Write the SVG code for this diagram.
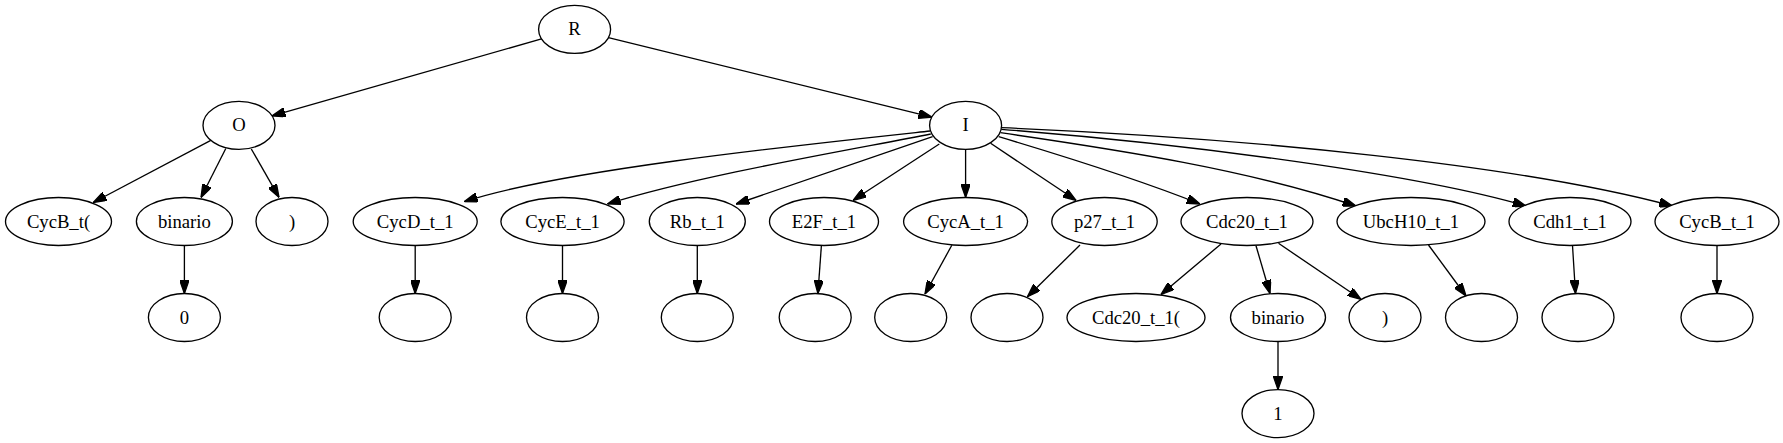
<svg xmlns="http://www.w3.org/2000/svg" width="1783" height="443" viewBox="0 0 1783 443">
<defs>
<style>
.n ellipse{fill:#fff;stroke:#000;stroke-width:1.33}
.n text{font-family:"Liberation Serif","Times New Roman",serif;font-size:18.67px;text-anchor:middle;fill:#000}
.e path{fill:none;stroke:#000;stroke-width:1.33;marker-end:url(#arr)}
</style>
<marker id="arr" viewBox="0 0 10 7" refX="10" refY="3.5" markerWidth="13.3" markerHeight="9.3" markerUnits="userSpaceOnUse" orient="auto">
<path d="M0,0 L10,3.5 L0,7 z" fill="#000" stroke="#000" stroke-width="1"/>
</marker>
</defs>
<rect width="1783" height="443" fill="#fff"/>
<g id="edges" class="e">
<path d="M541.5,38.9 L272.1,115.9"/>
<path d="M608.4,37.7 L931.8,117.1"/>
<path d="M210.8,140.4 L93.2,202.5"/>
<path d="M225.8,148.5 L201,197.5"/>
<path d="M251.3,149 L279,197.3"/>
<path d="M930,131 C800,145 560,170 464.3,201.7"/>
<path d="M930.8,134 C850,150 700,175 607.5,204"/>
<path d="M932.6,136.7 L736.2,204"/>
<path d="M939.3,144 L853.1,200.3"/>
<path d="M965.6,149.3 L965.6,197.3"/>
<path d="M990.6,143.3 L1076,200.3"/>
<path d="M998.7,136.7 C1060,155 1140,180 1200,204"/>
<path d="M1000.4,132.7 C1120,150 1250,170 1356,206"/>
<path d="M1001.3,129.3 C1200,145 1420,175 1526,206"/>
<path d="M1001.3,127.7 C1250,138 1520,165 1672.5,206"/>
<path d="M184.4,245.5 L184.4,293.5"/>
<path d="M415.2,245.5 L415.2,293.5"/>
<path d="M562.5,245.5 L562.5,293.5"/>
<path d="M697.3,245.5 L697.3,293.5"/>
<path d="M821.4,245.5 L817.9,293.5"/>
<path d="M951.8,245.3 L925,294"/>
<path d="M1080,245 L1027.5,296.7"/>
<path d="M1221,244 L1161,294.5"/>
<path d="M1256,245.7 L1270,293.5"/>
<path d="M1278.5,243.3 L1361,299.3"/>
<path d="M1428.5,245 L1466,296"/>
<path d="M1572.5,245.7 L1575.5,293.5"/>
<path d="M1717,245.5 L1717,293.5"/>
<path d="M1278,341.5 L1278,389.6"/>
</g>
<g id="n_R" class="n"><ellipse cx="574.6" cy="29.4" rx="36" ry="24"/><text x="574.6" y="35.4">R</text></g>
<g id="n_O" class="n"><ellipse cx="239" cy="125.4" rx="36" ry="24"/><text x="239" y="131.4">O</text></g>
<g id="n_I" class="n"><ellipse cx="965.6" cy="125.4" rx="36" ry="24"/><text x="965.6" y="131.4">I</text></g>
<g id="n_CycBt" class="n"><ellipse cx="58.5" cy="221.5" rx="53" ry="24"/><text x="58.5" y="227.5">CycB_t(</text></g>
<g id="n_bin0" class="n"><ellipse cx="184.4" cy="221.5" rx="48" ry="24"/><text x="184.4" y="227.5">binario</text></g>
<g id="n_par0" class="n"><ellipse cx="292" cy="221.5" rx="36" ry="24"/><text x="292" y="227.5">)</text></g>
<g id="n_CycD" class="n"><ellipse cx="415.2" cy="221.5" rx="62" ry="24"/><text x="415.2" y="227.5">CycD_t_1</text></g>
<g id="n_CycE" class="n"><ellipse cx="562.5" cy="221.5" rx="61.6" ry="24"/><text x="562.5" y="227.5">CycE_t_1</text></g>
<g id="n_Rb" class="n"><ellipse cx="697.3" cy="221.5" rx="48" ry="24"/><text x="697.3" y="227.5">Rb_t_1</text></g>
<g id="n_E2F" class="n"><ellipse cx="824" cy="221.5" rx="54.5" ry="24"/><text x="824" y="227.5">E2F_t_1</text></g>
<g id="n_CycA" class="n"><ellipse cx="965.6" cy="221.5" rx="62" ry="24"/><text x="965.6" y="227.5">CycA_t_1</text></g>
<g id="n_p27" class="n"><ellipse cx="1104.5" cy="221.5" rx="52.7" ry="24"/><text x="1104.5" y="227.5">p27_t_1</text></g>
<g id="n_Cdc20" class="n"><ellipse cx="1247" cy="221.5" rx="66" ry="24"/><text x="1247" y="227.5">Cdc20_t_1</text></g>
<g id="n_Ubc" class="n"><ellipse cx="1411" cy="221.5" rx="74" ry="24"/><text x="1411" y="227.5">UbcH10_t_1</text></g>
<g id="n_Cdh1" class="n"><ellipse cx="1570" cy="221.5" rx="61" ry="24"/><text x="1570" y="227.5">Cdh1_t_1</text></g>
<g id="n_CycB1" class="n"><ellipse cx="1717" cy="221.5" rx="62" ry="24"/><text x="1717" y="227.5">CycB_t_1</text></g>
<g id="n_0" class="n"><ellipse cx="184.4" cy="317.5" rx="36" ry="24"/><text x="184.4" y="323.5">0</text></g>
<g id="n_eCycD" class="n"><ellipse cx="415.2" cy="317.5" rx="36" ry="24"/></g>
<g id="n_eCycE" class="n"><ellipse cx="562.5" cy="317.5" rx="36" ry="24"/></g>
<g id="n_eRb" class="n"><ellipse cx="697.3" cy="317.5" rx="36" ry="24"/></g>
<g id="n_eE2F" class="n"><ellipse cx="815.2" cy="317.5" rx="36" ry="24"/></g>
<g id="n_eCycA" class="n"><ellipse cx="910.7" cy="317.5" rx="36" ry="24"/></g>
<g id="n_ep27" class="n"><ellipse cx="1007" cy="317.5" rx="36" ry="24"/></g>
<g id="n_Cdc20p" class="n"><ellipse cx="1136" cy="317.5" rx="69" ry="24"/><text x="1136" y="323.5">Cdc20_t_1(</text></g>
<g id="n_bin1" class="n"><ellipse cx="1278" cy="317.5" rx="47.5" ry="24"/><text x="1278" y="323.5">binario</text></g>
<g id="n_par1" class="n"><ellipse cx="1385" cy="317.5" rx="36" ry="24"/><text x="1385" y="323.5">)</text></g>
<g id="n_eUbc" class="n"><ellipse cx="1481.5" cy="317.5" rx="36" ry="24"/></g>
<g id="n_eCdh1" class="n"><ellipse cx="1578" cy="317.5" rx="36" ry="24"/></g>
<g id="n_eCycB" class="n"><ellipse cx="1717" cy="317.5" rx="36" ry="24"/></g>
<g id="n_1" class="n"><ellipse cx="1278" cy="413.6" rx="36" ry="24"/><text x="1278" y="419.6">1</text></g>
</svg>
